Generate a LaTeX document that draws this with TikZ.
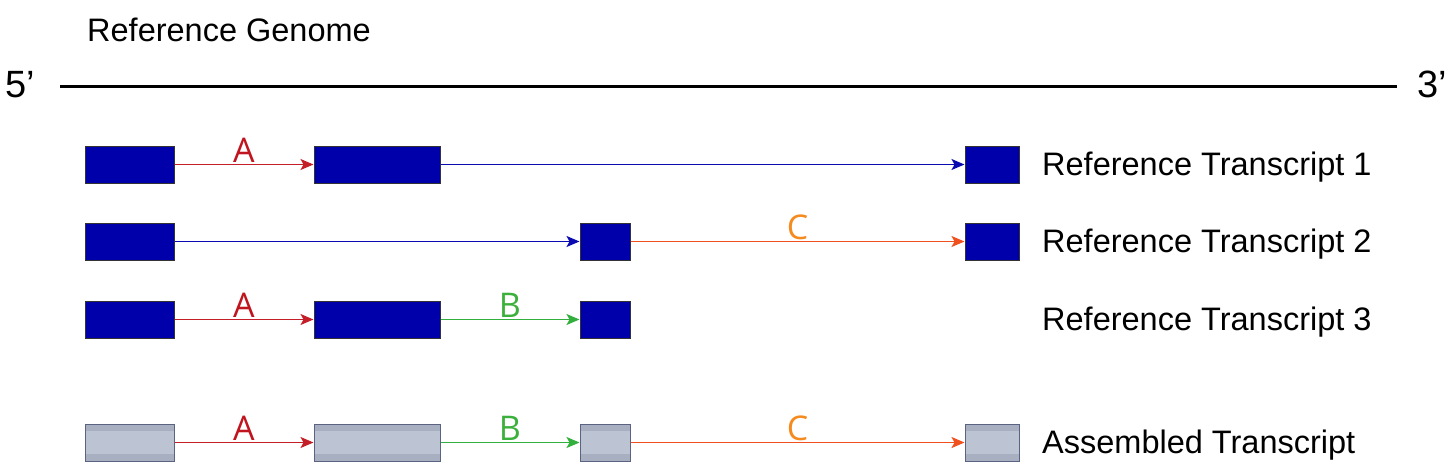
\documentclass[tikz,border=0pt]{standalone}
\usepackage{fontspec}
\setmainfont{Liberation Sans}
\newfontfamily\lblfont{Open Sans}
\usetikzlibrary{arrows.meta}
\definecolor{refblue}{RGB}{0,0,170}
\definecolor{arrblue}{RGB}{10,10,176}
\definecolor{arrred}{RGB}{196,30,40}
\definecolor{lblred}{RGB}{192,20,30}
\definecolor{arrgreen}{RGB}{50,175,60}
\definecolor{lblgreen}{RGB}{60,176,60}
\definecolor{arrorange}{RGB}{240,80,30}
\definecolor{lblorange}{RGB}{245,138,31}
\definecolor{asmfill}{RGB}{188,195,210}
\definecolor{asmband}{RGB}{168,175,192}
\definecolor{asmborder}{RGB}{90,100,130}
\tikzset{
  refbox/.style={draw=black!80, line width=1pt, fill=refblue, inner sep=0pt, minimum height=37pt},
  asmbox/.style={draw=asmborder, line width=1pt, fill=asmfill, inner sep=0pt, minimum height=37pt,
    path picture={
      \fill[asmband] (path picture bounding box.north west) rectangle ([yshift=-7pt]path picture bounding box.north east);
      \fill[asmband] (path picture bounding box.south west) rectangle ([yshift=7pt]path picture bounding box.south east);
    }},
  wA/.style={minimum width=89pt}, wB/.style={minimum width=126pt},
  wC/.style={minimum width=50pt}, wD/.style={minimum width=54pt},
  conn/.style={line width=1.6pt, -{Stealth[length=13pt,width=11pt,inset=3pt]}},
  lbl/.style={font=\lblfont\fontsize{34}{36}\selectfont, above=0pt, midway, inner sep=1pt},
  tlabel/.style={anchor=base west, font=\fontsize{32.5}{36}\selectfont, inner sep=0pt},
}
\begin{document}
\begin{tikzpicture}[x=1pt,y=-1pt]
\useasboundingbox (0,0) rectangle (1456,469);
% genome
\node[anchor=base west, inner sep=0pt, font=\fontsize{32.5}{36}\selectfont] (genome) at (87,41) {Reference Genome};
\node[anchor=base west, inner sep=0pt, font=\fontsize{38}{42}\selectfont] (five) at (5,97) {5’};
\node[anchor=base west, inner sep=0pt, font=\fontsize{38}{42}\selectfont] (three) at (1417,97) {3’};
\coordinate (gL) at (60,86);
\coordinate (gR) at (1397,86);
\draw[line width=3pt] (gL) -- (gR);
% row 1
\node[refbox,wA] (r1a) at (129.5,164.5) {};
\node[refbox,wB] (r1b) at (377,164.5) {};
\node[refbox,wD] (r1d) at (992,164.5) {};
\draw[conn,arrred] (r1a.east) -- node[lbl,text=lblred] {A} (r1b.west);
\draw[conn,arrblue] (r1b.east) -- (r1d.west);
\node[tlabel] (t1) at (1042,175.5) {Reference Transcript 1};
% row 2
\node[refbox,wA] (r2a) at (129.5,241.5) {};
\node[refbox,wC] (r2c) at (605,241.5) {};
\node[refbox,wD] (r2d) at (992,241.5) {};
\draw[conn,arrblue] (r2a.east) -- (r2c.west);
\draw[conn,arrorange] (r2c.east) -- node[lbl,text=lblorange] {C} (r2d.west);
\node[tlabel] (t2) at (1042,252.5) {Reference Transcript 2};
% row 3
\node[refbox,wA] (r3a) at (129.5,319.5) {};
\node[refbox,wB] (r3b) at (377,319.5) {};
\node[refbox,wC] (r3c) at (605,319.5) {};
\draw[conn,arrred] (r3a.east) -- node[lbl,text=lblred] {A} (r3b.west);
\draw[conn,arrgreen] (r3b.east) -- node[lbl,text=lblgreen] {B} (r3c.west);
\node[tlabel] (t3) at (1042,330.5) {Reference Transcript 3};
% row 4
\node[asmbox,wA] (r4a) at (129.5,442.5) {};
\node[asmbox,wB] (r4b) at (377,442.5) {};
\node[asmbox,wC] (r4c) at (605,442.5) {};
\node[asmbox,wD] (r4d) at (992,442.5) {};
\draw[conn,arrred] (r4a.east) -- node[lbl,text=lblred] {A} (r4b.west);
\draw[conn,arrgreen] (r4b.east) -- node[lbl,text=lblgreen] {B} (r4c.west);
\draw[conn,arrorange] (r4c.east) -- node[lbl,text=lblorange] {C} (r4d.west);
\node[tlabel] (t4) at (1042,453.5) {Assembled Transcript};
\end{tikzpicture}
\end{document}
